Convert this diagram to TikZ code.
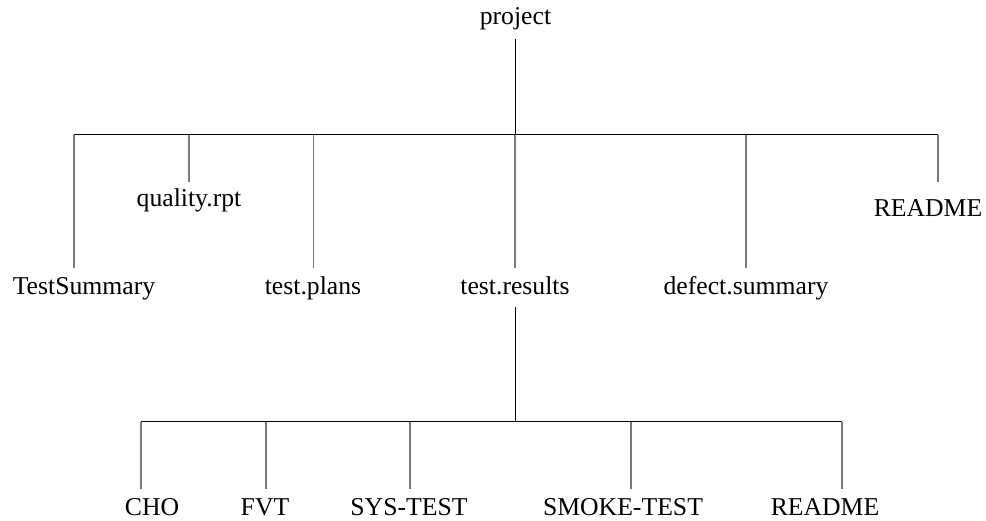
\documentclass[tikz,border=0pt]{standalone}
\usepackage{fontspec}
\setmainfont{Liberation Serif}
\begin{document}
\begin{tikzpicture}[x=1pt,y=-1pt,
  lbl/.style={inner sep=0pt, text height=18pt, text depth=6pt, anchor=base,
              font=\fontsize{25.7}{30}\selectfont},
  bar/.style={line width=1pt, black},
  stem/.style={line width=1pt, black},
  kid/.style={line width=1.3pt, black!52}]
\useasboundingbox (0,0) rectangle (986,521);
% level 0
\node[lbl] (project) at (515.5,25) {project};
\coordinate (j0) at (515,135);
% level 1
\node[lbl] (ts) at (84,294.5) {TestSummary};
\node[lbl] (qr) at (189,207) {quality.rpt};
\node[lbl] (tp) at (313,294.5) {test.plans};
\node[lbl] (tr) at (515,294.5) {test.results};
\node[lbl] (ds) at (746,294.5) {defect.summary};
\node[lbl] (rm1) at (928,217) {README};
\coordinate (b1l) at (74,135);
\coordinate (b1q) at (189,135);
\coordinate (b1p) at (313.5,135);
\coordinate (b1d) at (746,135);
\coordinate (b1r) at (938,135);
% ends of the level-1 stems, above the labels
\coordinate (ts-t) at (74,268);
\coordinate (qr-t) at (189,182);
\coordinate (tp-t) at (313.5,268);
\coordinate (tr-t) at (515,268);
\coordinate (ds-t) at (746,268);
\coordinate (rm1-t) at (938,182);
% stems below parents
\coordinate (pr-b) at (515,39);
\coordinate (tr-b) at (515,307);
% level 2
\coordinate (j1) at (515,422);
\coordinate (b2l) at (141,422);
\coordinate (b2f) at (266,422);
\coordinate (b2s) at (410,422);
\coordinate (b2m) at (631,422);
\coordinate (b2r) at (842,422);
\node[lbl] (cho) at (152,515) {CHO};
\node[lbl] (fvt) at (265,515) {FVT};
\node[lbl] (sys) at (409,515) {SYS-TEST};
\node[lbl] (smk) at (623,515) {SMOKE-TEST};
\node[lbl] (rm2) at (825,515) {README};
\coordinate (cho-t) at (141,489);
\coordinate (fvt-t) at (266,489);
\coordinate (sys-t) at (410,489);
\coordinate (smk-t) at (631,489);
\coordinate (rm2-t) at (842,489);
% connectors level 0 -> 1
\draw[stem] (pr-b) -- (j0);
\draw[bar] (b1l) -- (b1r);
\draw[kid] (b1l) -- (ts-t);
\draw[kid] (b1q) -- (qr-t);
\draw[kid] (b1p) -- (tp-t);
\draw[kid] (j0) -- (tr-t);
\draw[kid] (b1d) -- (ds-t);
\draw[kid] (b1r) -- (rm1-t);
% connectors level 1 -> 2
\draw[stem] (tr-b) -- (j1);
\draw[bar] (b2l) -- (b2r);
\draw[kid] (b2l) -- (cho-t);
\draw[kid] (b2f) -- (fvt-t);
\draw[kid] (b2s) -- (sys-t);
\draw[kid] (b2m) -- (smk-t);
\draw[kid] (b2r) -- (rm2-t);
\end{tikzpicture}
\end{document}
